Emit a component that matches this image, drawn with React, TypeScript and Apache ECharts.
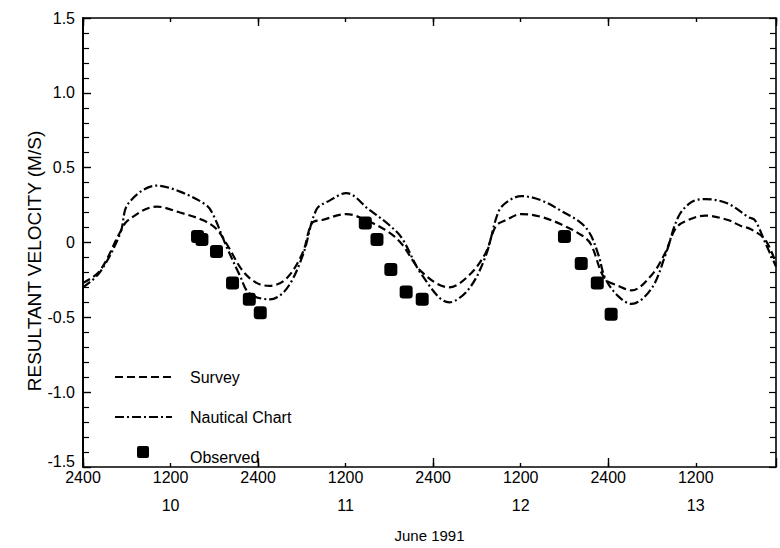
import React, { useEffect, useRef } from "react";
import * as echarts from "echarts";

// Hours after 0000 on 10 June 1991
const surveyHours = [0, 2.3, 5.1, 6.2, 10.1, 13.3, 16.4, 18.3, 19.7, 21.9, 23.8, 25.6, 27.9, 30.1, 31.4, 32.8, 36.1, 39.2, 41.9, 43.7, 46.5, 50.2, 52.9, 55.2, 56.6, 58.0, 60.1, 62.9, 65.6, 68.3, 69.6, 71.5, 73.4, 75.2, 77.9, 79.8, 81.2, 82.5, 85.3, 88.4, 90.2, 91.5, 93.5, 95];
const surveyVel = [-0.27, -0.19, 0.07, 0.15, 0.24, 0.2, 0.15, 0.09, -0.01, -0.19, -0.27, -0.29, -0.24, -0.07, 0.13, 0.15, 0.19, 0.14, 0.07, -0.01, -0.2, -0.3, -0.22, -0.07, 0.11, 0.15, 0.19, 0.17, 0.12, 0.05, -0.01, -0.24, -0.29, -0.32, -0.22, -0.07, 0.09, 0.14, 0.18, 0.15, 0.11, 0.09, 0.02, -0.14];

const nauticalHours = [0, 2.3, 5.1, 6.2, 10.1, 13.3, 16.9, 17.8, 19.7, 21.5, 22.8, 25.6, 27.9, 30.1, 32.0, 33.8, 36.1, 39.2, 41.9, 43.7, 46.5, 50.2, 52.9, 55.2, 57.0, 58.4, 60.1, 62.9, 65.6, 68.3, 69.6, 70.7, 71.6, 73.4, 75.2, 77.9, 79.8, 81.6, 83.4, 85.3, 88.4, 91.2, 92.1, 93.6, 95];
const nauticalVel = [-0.3, -0.2, 0.06, 0.26, 0.38, 0.34, 0.25, 0.19, -0.03, -0.22, -0.34, -0.38, -0.31, -0.09, 0.22, 0.28, 0.33, 0.22, 0.12, 0.03, -0.22, -0.4, -0.31, -0.09, 0.21, 0.28, 0.31, 0.28, 0.21, 0.13, 0.05, -0.09, -0.24, -0.36, -0.41, -0.31, -0.09, 0.17, 0.27, 0.29, 0.26, 0.17, 0.15, -0.01, -0.16];

const observedHours = [15.7, 16.3, 18.3, 20.5, 22.8, 24.3, 38.7, 40.3, 42.2, 44.3, 46.5, 66.0, 68.3, 70.5, 72.4];
const observedVel = [0.04, 0.02, -0.06, -0.27, -0.38, -0.47, 0.13, 0.02, -0.18, -0.33, -0.38, 0.04, -0.14, -0.27, -0.48];

const firstDay = 10;
const legendNames = ["Survey", "Nautical Chart", "Observed"];
const yTitle = "RESULTANT VELOCITY (M/S)";
const xTitle = "June 1991";

const FONT = "'Liberation Sans', Arial, Helvetica, sans-serif";
const INK = "#000";

const zip = (xs: number[], ys: number[]) => xs.map((x, i) => [x, ys[i]]);

export default function App() {
  const ref = useRef<HTMLDivElement>(null);
  useEffect(() => {
    if (!ref.current) return;
    const chart = echarts.init(ref.current, null, { renderer: "svg" });
    const baseX = {
      type: "value",
      min: 0,
      max: 95,
      interval: 12,
      gridIndex: 0,
      splitLine: { show: false },
      axisLine: { show: true, onZero: false, lineStyle: { color: INK, width: 1.6 } },
    };
    const option: any = {
      animation: false,
      backgroundColor: "#fff",
      textStyle: { fontFamily: FONT },
      grid: { left: 83, right: 4, top: 18, bottom: 75, containLabel: false },
      xAxis: [
        {
          ...baseX,
          position: "bottom",
          axisTick: { show: true, inside: true, length: 4, lineStyle: { color: INK, width: 1.4 } },
          axisLabel: {
            show: true,
            margin: 2,
            showMaxLabel: false,
            formatter: (v: number) => {
              if (v % 24 === 0) return "{a|2400}";
              if (v % 12 === 0) return "{a|1200}\n{b|" + (firstDay + Math.floor(v / 24)) + "}";
              return "";
            },
            rich: {
              a: { fontFamily: FONT, fontSize: 16, color: INK, lineHeight: 16 },
              b: { fontFamily: FONT, fontSize: 16, color: INK, lineHeight: 40 },
            },
          },
          name: xTitle,
          nameLocation: "middle",
          nameGap: 61,
          nameTextStyle: { fontFamily: FONT, fontSize: 15, color: INK },
        },
        {
          ...baseX,
          interval: 24,
          position: "bottom",
          axisLine: { show: false, onZero: false },
          axisTick: { show: true, inside: true, length: 9, lineStyle: { color: INK, width: 1.4 } },
          axisLabel: { show: false },
        },
        {
          ...baseX,
          position: "top",
          axisTick: { show: true, inside: true, length: 4, lineStyle: { color: INK, width: 1.4 } },
          axisLabel: { show: false },
        },
        {
          ...baseX,
          interval: 24,
          position: "top",
          axisLine: { show: false, onZero: false },
          axisTick: { show: true, inside: true, length: 8, lineStyle: { color: INK, width: 1.4 } },
          axisLabel: { show: false },
        },
      ],
      yAxis: [
        {
          type: "value",
          min: -1.5,
          max: 1.5,
          interval: 0.5,
          position: "left",
          splitLine: { show: false },
          axisLine: { show: true, onZero: false, lineStyle: { color: INK, width: 2 } },
          axisTick: { show: true, inside: true, length: 8, lineStyle: { color: INK, width: 1.4 } },
          minorTick: { show: true, splitNumber: 5, length: 6, lineStyle: { color: INK, width: 1.2 } },
          axisLabel: {
            show: true,
            margin: 8,
            formatter: (v: number) =>
              v <= -1.5 ? "{low|" + v.toFixed(1) + "}" : "{n|" + (Math.abs(v) < 1e-9 ? "0" : v.toFixed(1)) + "}",
            rich: {
              n: { fontFamily: FONT, fontSize: 16, color: INK },
              low: { fontFamily: FONT, fontSize: 16, color: INK, padding: [0, 0, 12, 0] },
            },
          },
        },
        {
          type: "value",
          min: -1.5,
          max: 1.5,
          interval: 0.5,
          position: "right",
          splitLine: { show: false },
          axisLine: { show: true, onZero: false, lineStyle: { color: INK, width: 1.6 } },
          axisTick: { show: true, inside: true, length: 7, lineStyle: { color: INK, width: 1.2 } },
          minorTick: { show: true, splitNumber: 5, length: 6, lineStyle: { color: INK, width: 1.2 } },
          axisLabel: { show: false },
        },
      ],
      series: [
        {
          name: legendNames[0],
          type: "line",
          xAxisIndex: 0,
          yAxisIndex: 0,
          data: zip(surveyHours, surveyVel),
          smooth: 0.35,
          showSymbol: false,
          symbol: "none",
          lineStyle: { color: INK, width: 2.2, type: [8, 4] },
        },
        {
          name: legendNames[1],
          type: "line",
          xAxisIndex: 0,
          yAxisIndex: 0,
          data: zip(nauticalHours, nauticalVel),
          smooth: 0.35,
          showSymbol: false,
          symbol: "none",
          lineStyle: { color: INK, width: 2.2, type: [9, 3, 2, 3] },
        },
        {
          name: legendNames[2],
          type: "scatter",
          xAxisIndex: 0,
          yAxisIndex: 0,
          data: zip(observedHours, observedVel),
          symbol: "roundRect",
          symbolSize: 13,
          itemStyle: { color: INK, opacity: 1 },
        },
      ],
      graphic: [
        {
          type: "line",
          shape: { x1: 115, y1: 377, x2: 172, y2: 377 },
          style: { stroke: INK, lineWidth: 2, lineDash: [8, 4] },
        },
        {
          type: "line",
          shape: { x1: 115, y1: 417, x2: 172, y2: 417 },
          style: { stroke: INK, lineWidth: 2, lineDash: [9, 3, 2, 3] },
        },
        {
          type: "rect",
          shape: { x: 137, y: 446, width: 12, height: 12, r: 2 },
          style: { fill: INK },
        },
        {
          type: "text",
          x: 190,
          y: 377,
          style: { text: legendNames[0], fontFamily: FONT, fontSize: 16, fill: INK, verticalAlign: "middle" },
        },
        {
          type: "text",
          x: 190,
          y: 417,
          style: { text: legendNames[1], fontFamily: FONT, fontSize: 16, fill: INK, verticalAlign: "middle" },
        },
        {
          type: "text",
          x: 190,
          y: 457,
          style: { text: legendNames[2], fontFamily: FONT, fontSize: 16, fill: INK, verticalAlign: "middle" },
        },
        {
          type: "text",
          x: 34,
          y: 261,
          rotation: Math.PI / 2,
          style: {
            text: yTitle,
            fontFamily: FONT,
            fontSize: 19,
            fill: INK,
            align: "center",
            verticalAlign: "middle",
          },
        },
      ],
    };
    chart.setOption(option);
    return () => chart.dispose();
  }, []);
  return (
    <div
      ref={ref}
      style={{ position: "fixed", left: 0, top: 0, width: 780, height: 548, background: "#fff" }}
    />
  );
}
